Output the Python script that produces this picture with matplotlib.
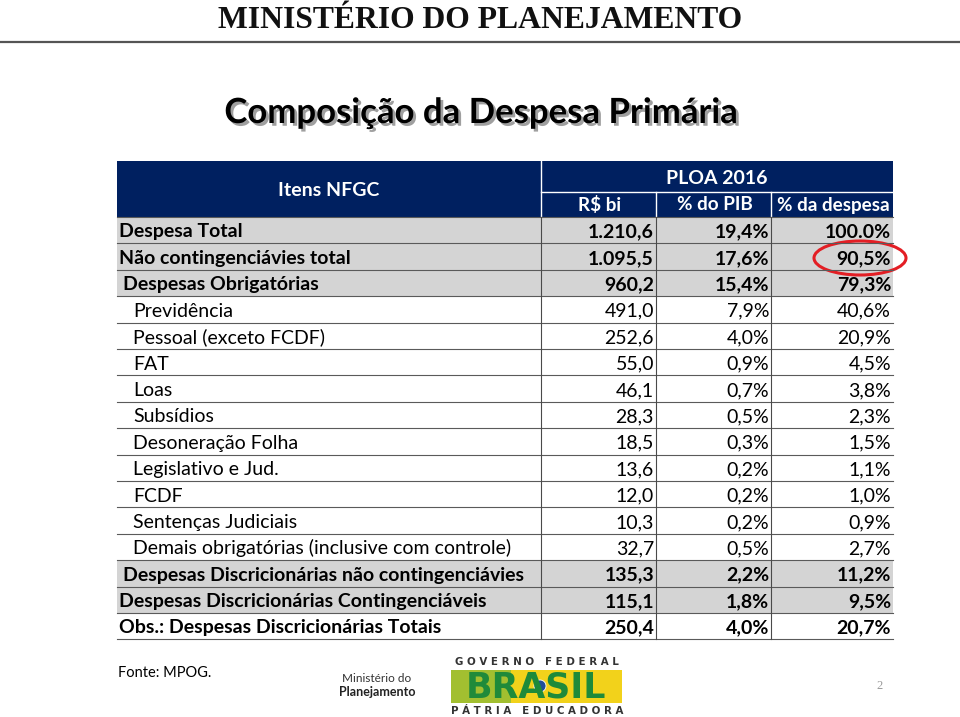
import matplotlib
matplotlib.use("Agg")
import matplotlib.pyplot as plt
import matplotlib.patheffects as pe
from matplotlib.patches import Rectangle, Ellipse, Circle, Polygon

# table content
items = [
    "Despesa Total",
    "Não contingenciávies total",
    "Despesas Obrigatórias",
    "Previdência",
    "Pessoal (exceto FCDF)",
    "FAT",
    "Loas",
    "Subsídios",
    "Desoneração Folha",
    "Legislativo e Jud.",
    "FCDF",
    "Sentenças Judiciais",
    "Demais obrigatórias (inclusive com controle)",
    "Despesas Discricionárias não contingenciávies",
    "Despesas Discricionárias Contingenciáveis",
    "Obs.: Despesas Discricionárias Totais",
]
rs_bi = ["1.210,6", "1.095,5", "960,2", "491,0", "252,6", "55,0", "46,1", "28,3",
         "18,5", "13,6", "12,0", "10,3", "32,7", "135,3", "115,1", "250,4"]
pct_pib = ["19,4%", "17,6%", "15,4%", "7,9%", "4,0%", "0,9%", "0,7%", "0,5%",
           "0,3%", "0,2%", "0,2%", "0,2%", "0,5%", "2,2%", "1,8%", "4,0%"]
pct_despesa = ["100.0%", "90,5%", "79,3%", "40,6%", "20,9%", "4,5%", "3,8%", "2,3%",
               "1,5%", "1,1%", "1,0%", "0,9%", "2,7%", "11,2%", "9,5%", "20,7%"]
# row style: 0 = bold/grey, 1 = bold/grey indented, 2 = sub item, 3 = bold/white
row_kind = [0, 0, 1, 2, 2, 2, 2, 2, 2, 2, 2, 2, 2, 1, 0, 3]
col_headers = ["R$ bi", "% do PIB", "% da despesa"]

FONT = "Lato"
NAVY = "#002060"
GREY = "#D4D4D4"
FS = 14

fig = plt.figure(figsize=(9.6, 7.17), dpi=100)
ax = fig.add_axes([0, 0, 1, 1])
ax.set_xlim(0, 960)
ax.set_ylim(717, 0)
ax.axis("off")

# slide header
ax.text(480, 21, "MINISTÉRIO DO PLANEJAMENTO", family="Liberation Serif",
        fontweight="bold", fontsize=22.8, ha="center", va="center", color="#111111")
ax.plot([0, 960], [42, 42], color="#555555", lw=1.6)
ax.text(481, 113, "Composição da Despesa Primária", family=FONT, fontweight="bold",
        fontsize=25, ha="center", va="center", color="black",
        path_effects=[pe.SimplePatchShadow(offset=(2, -2), shadow_rgbFace="#777777", alpha=0.7),
                      pe.Normal()])

# geometry
x_left, x_right = 117, 893
col_x = [541, 656, 771, 893]
head_top, head_mid, head_bot = 161, 192, 217
row_h = 26.4

ax.add_patch(Rectangle((x_left, head_top), x_right - x_left, head_bot - head_top,
                       facecolor=NAVY, edgecolor="none"))
ax.plot([col_x[0], col_x[0]], [head_top, head_bot], color="white", lw=1)
ax.plot([col_x[0], x_right], [head_mid, head_mid], color="white", lw=1)
for cx in col_x[1:3]:
    ax.plot([cx, cx], [head_mid, head_bot], color="white", lw=1)
ax.text((x_left + col_x[0]) / 2, 190, "Itens NFGC", family=FONT, fontweight="bold",
        fontsize=FS, color="white", ha="center", va="center")
ax.text((col_x[0] + x_right) / 2, 179, "PLOA 2016", family=FONT, fontweight="bold",
        fontsize=FS, color="white", ha="center", va="center")
for i, h in enumerate(col_headers):
    ax.text((col_x[i] + col_x[i + 1]) / 2 + 1, 205, h, family=FONT, fontweight="bold",
            fontsize=13.6, color="white", ha="center", va="center")

for i, label in enumerate(items):
    top = head_bot + i * row_h
    kind = row_kind[i]
    if kind in (0, 1):
        ax.add_patch(Rectangle((x_left, top), x_right - x_left, row_h,
                               facecolor=GREY, edgecolor="none"))
    weight = "normal" if kind == 2 else "bold"
    indent = {0: 2, 1: 6, 2: 16, 3: 2}[kind]
    base = top + 20.5
    ax.text(x_left + indent, base, label, family=FONT, fontweight=weight,
            fontsize=FS, ha="left", va="baseline", color="black")
    for j, val in enumerate([rs_bi[i], pct_pib[i], pct_despesa[i]]):
        ax.text(col_x[j + 1] - 2, base, val, family=FONT, fontweight=weight,
                fontsize=FS, ha="right", va="baseline", color="black")

n = len(items)
for i in range(n + 1):
    y = head_bot + i * row_h
    ax.plot([x_left, x_right], [y, y], color="#5a5a5a", lw=0.8)
for cx in col_x[:3]:
    ax.plot([cx, cx], [head_bot, head_bot + n * row_h], color="#4a4a4a", lw=0.8)

# highlight
ax.add_patch(Ellipse((860, 258), 92, 34, facecolor="none", edgecolor="#E31E24", lw=2.2))

# footer
ax.text(118, 673, "Fonte: MPOG.", family=FONT, fontsize=10.5, ha="left", va="center")
ax.text(377, 679, "Ministério do", family=FONT, fontsize=8.5, ha="center", va="center",
        color="#333333")
ax.text(377, 692, "Planejamento", family=FONT, fontsize=9, fontweight="bold",
        ha="center", va="center", color="#222222")

ax.text(537, 662, "G O V E R N O   F E D E R A L", family="DejaVu Sans", fontweight="bold",
        fontsize=7.4, ha="center", va="center", color="#333333")
ax.add_patch(Rectangle((451, 670), 171, 33, facecolor="#F2D21B", edgecolor="none"))
ax.add_patch(Rectangle((451, 670), 60, 33, facecolor="#6DB33F", edgecolor="none", alpha=0.6))
ax.text(536, 687, "BRASIL", family="DejaVu Sans", fontweight="heavy", fontsize=25,
        ha="center", va="center", color="#1F8A3A")
ax.add_patch(Polygon([[527, 686], [540, 678], [553, 686], [540, 694]],
                     facecolor="#F2D21B", edgecolor="none"))
ax.add_patch(Circle((540, 686), 6, facecolor="#1F4E9A", edgecolor="white", lw=0.6))
ax.text(537, 711.5, "P Á T R I A   E D U C A D O R A", family="DejaVu Sans", fontweight="bold",
        fontsize=7.4, ha="center", va="center", color="#333333")

ax.text(880, 686, "2", family="Liberation Serif", fontsize=9, ha="center", va="center",
        color="#999999")

fig.savefig("out.png", dpi=100)
